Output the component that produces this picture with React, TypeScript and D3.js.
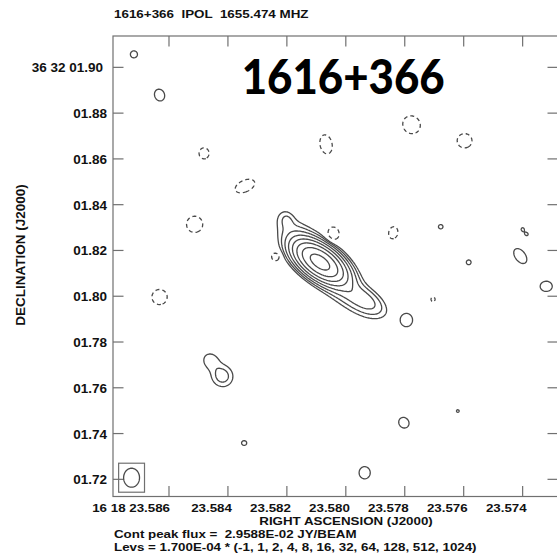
import React, { useMemo } from "react";
import * as d3 from "d3";

// Map extent: RA in seconds of 16h18m, Dec in arcsec of +36d32m
const RA_RANGE = [23.5879, 23.5728];
const DEC_RANGE = [1.7125, 1.9137];
const RA_TICKS = [23.586, 23.584, 23.582, 23.58, 23.578, 23.576, 23.574];
const DEC_TICKS = [1.9, 1.88, 1.86, 1.84, 1.82, 1.8, 1.78, 1.76, 1.74, 1.72];

// Contour levels (Jy/beam) and map peak
const BASE_LEVEL_JY = 1.7e-4;
const PEAK_FLUX_JY = 2.9588e-2;
const LEVEL_MULTIPLIERS = [-1, 1, 2, 4, 8, 16, 32, 64, 128, 512, 1024];

// Clean components: position, peak (mJy/beam), FWHM major/minor (mas), PA (deg)
const COMP_RA = [
  23.58088, 23.58071, 23.582, 23.57936,
  23.58719, 23.58632, 23.58419, 23.58458,
  23.58481, 23.58342, 23.58067, 23.57777, 23.57597, 23.58513, 23.58043, 23.58238,
  23.57839, 23.57704, 23.58632,
  23.57678, 23.574, 23.57386, 23.57583, 23.57408, 23.5732, 23.57794, 23.58345,
  23.57803, 23.5762, 23.57936,
];
const COMP_DEC = [
  1.81494, 1.81319, 1.83329, 1.79834,
  1.90568, 1.8879, 1.76514, 1.77169,
  1.86243, 1.84814, 1.86636, 1.87492, 1.86793, 1.83141, 1.82717, 1.81726,
  1.82774, 1.79865, 1.79965,
  1.83036, 1.82923, 1.82704, 1.81481, 1.81756, 1.80433, 1.7896, 1.73587,
  1.74474, 1.74985, 1.72289,
];
const COMP_PEAK = [
  27.9, 1.5, 0.27, 0.85,
  0.31, 0.31, 0.48, 0.3,
  -0.31, -0.31, -0.31, -0.31, -0.31, -0.31, -0.31, -0.31,
  -0.31, -0.22, -0.31,
  0.22, 0.2, 0.2, 0.26, 0.31, 0.31, 0.31, 0.26,
  0.31, 0.2, 0.31,
];
const COMP_MAJ = [
  14, 30, 6, 13,
  3.3, 5.6, 7.6, 7,
  5.2, 9.3, 9, 8.5, 6.7, 7.6, 6.6, 3.8,
  5.7, 3.3, 7.1,
  3.1, 3, 2.2, 2.7, 7.8, 5.3, 6.2, 2.7,
  5.1, 2.4, 5.7,
];
const COMP_MIN = [
  7.2, 9, 4.5, 6.5,
  3.1, 4.4, 7, 6,
  4.4, 5.4, 5.3, 7.6, 6.5, 7.1, 5.3, 3.6,
  4, 2.8, 6.7,
  3.1, 2.6, 2.2, 2.5, 4.6, 4.8, 5.3, 2.7,
  4.4, 2.4, 4.9,
];
const COMP_PA = [
  52, 42, 15, 55,
  0, 15, 15, 30,
  0, -63, 10, 20, 0, 0, 0, 0,
  -10, 0, 0,
  0, 0, 0, 0, 33, 90, 0, 0,
  25, 0, 0,
];

// Restoring beam
const BEAM_RA = 23.58727;
const BEAM_DEC = 1.72071;
const BEAM_MAJ = 8.3;
const BEAM_MIN = 6.5;
const BEAM_PA = 0;

const SOURCE = "1616+366";
const TITLE = SOURCE + "  IPOL  1655.474 MHZ";

const COS_DEC = Math.cos(((36 + 32 / 60 + 1.8 / 3600) * Math.PI) / 180);

const LEFT = 113;
const RIGHT = 558;
const TOP = 36;
const BOTTOM = 496.5;

const FONT = "'Liberation Sans', Arial, Helvetica, sans-serif";
const INK = "#111";
const FRAME = "#707070";
const CONTOUR = "#4a4a4a";

// AIPS-style exponent: 1.700E-04
function aipsExp(v: number, digits: number): string {
  const [m, e] = v.toExponential(digits).split("e");
  const n = parseInt(e, 10);
  return m + "E" + (n < 0 ? "-" : "+") + String(Math.abs(n)).padStart(2, "0");
}

function skyField(ra: number, dec: number): number {
  let s = 0;
  for (let k = 0; k < COMP_RA.length; k++) {
    const e = (ra - COMP_RA[k]) * 15000 * COS_DEC;
    const n = (dec - COMP_DEC[k]) * 1000;
    const pa = (COMP_PA[k] * Math.PI) / 180;
    const u = e * Math.sin(pa) + n * Math.cos(pa);
    const v = e * Math.cos(pa) - n * Math.sin(pa);
    const q = (u / COMP_MAJ[k]) ** 2 + (v / COMP_MIN[k]) ** 2;
    if (q < 14) s += COMP_PEAK[k] * Math.exp(-4 * Math.LN2 * q);
  }
  return s;
}

function Label(props: {
  x: number;
  y: number;
  size: number;
  sx?: number;
  anchor?: "start" | "middle" | "end";
  children: React.ReactNode;
}) {
  const { x, y, size, sx = 1, anchor = "start", children } = props;
  return (
    <g transform={`translate(${x},${y}) scale(${sx},1)`}>
      <text x={0} y={0} textAnchor={anchor} fontFamily={FONT} fontWeight="bold" fontSize={size}
        fill={INK} style={{ whiteSpace: "pre" }}>
        {children}
      </text>
    </g>
  );
}

export default function App() {
  const x = d3.scaleLinear().domain(RA_RANGE).range([LEFT, RIGHT]);
  const y = d3.scaleLinear().domain(DEC_RANGE).range([BOTTOM, TOP]);
  const baseMJy = BASE_LEVEL_JY * 1000;

  const { posPaths, negPaths } = useMemo(() => {
    const step = 1;
    const nx = Math.ceil((RIGHT - LEFT) / step) + 1;
    const ny = Math.ceil((BOTTOM - TOP) / step) + 1;
    const values = new Float64Array(nx * ny);
    for (let j = 0; j < ny; j++) {
      const dec = y.invert(TOP + j * step);
      for (let i = 0; i < nx; i++) {
        values[j * nx + i] = skyField(x.invert(LEFT + i * step), dec);
      }
    }
    const project = d3.geoTransform({
      point(gx: number, gy: number) {
        (this as any).stream.point(LEFT + (gx - 0.5) * step, TOP + (gy - 0.5) * step);
      },
    });
    const path = d3.geoPath(project);
    const posLevels = LEVEL_MULTIPLIERS.filter((m) => m > 0).map((m) => m * baseMJy);
    const negLevels = LEVEL_MULTIPLIERS.filter((m) => m < 0).map((m) => -m * baseMJy);
    const gen = d3.contours().size([nx, ny]).smooth(true);
    const pos = gen.thresholds(posLevels)(Array.from(values));
    const neg = gen.thresholds(negLevels)(Array.from(values, (v) => -v));
    return {
      posPaths: pos.map((c) => path(c as any) || ""),
      negPaths: neg.map((c) => path(c as any) || ""),
    };
  }, []);

  // Beam outline
  const beamPts: [number, number][] = d3.range(0, 73).map((t) => {
    const a = (t / 72) * 2 * Math.PI;
    const pa = (BEAM_PA * Math.PI) / 180;
    const u = (BEAM_MAJ / 2) * Math.cos(a);
    const v = (BEAM_MIN / 2) * Math.sin(a);
    const e = u * Math.sin(pa) + v * Math.cos(pa);
    const n = u * Math.cos(pa) - v * Math.sin(pa);
    return [x(BEAM_RA + e / (15000 * COS_DEC)), y(BEAM_DEC + n / 1000)];
  });
  const beamPath = d3.line()(beamPts) || "";
  const bx = x(BEAM_RA);
  const by = y(BEAM_DEC);
  const bHalfW = Math.abs(x(BEAM_RA + BEAM_MIN / 2 / (15000 * COS_DEC)) - bx) + 5;
  const bHalfH = Math.abs(y(BEAM_DEC + BEAM_MAJ / 2 / 1000) - by) + 5;

  const tickLen = 10.5;
  const peakText = "Cont peak flux =  " + aipsExp(PEAK_FLUX_JY, 4) + " JY/BEAM";
  const levText = "Levs = " + aipsExp(BASE_LEVEL_JY, 3) + " * (" + LEVEL_MULTIPLIERS.join(", ") + ")";

  return (
    <svg width={557} height={557} style={{ position: "absolute", left: 0, top: 0, background: "#fff" }}>
      <defs>
        <clipPath id="frameClip">
          <rect x={LEFT} y={TOP} width={RIGHT - LEFT} height={BOTTOM - TOP} />
        </clipPath>
      </defs>
      <rect width={557} height={557} fill="#fff" />

      <Label x={114} y={18} size={11} sx={1.22}>{TITLE}</Label>

      {/* frame */}
      <rect x={LEFT} y={TOP} width={RIGHT - LEFT} height={BOTTOM - TOP} fill="none" stroke={FRAME} strokeWidth={1.2} />
      {RA_TICKS.map((t) => (
        <g key={"rt" + t}>
          <line x1={x(t)} x2={x(t)} y1={TOP} y2={TOP + tickLen} stroke={FRAME} strokeWidth={1.2} />
          <line x1={x(t)} x2={x(t)} y1={BOTTOM} y2={BOTTOM - tickLen} stroke={FRAME} strokeWidth={1.2} />
        </g>
      ))}
      {DEC_TICKS.map((t) => (
        <g key={"dt" + t}>
          <line x1={LEFT} x2={LEFT + tickLen} y1={y(t)} y2={y(t)} stroke={FRAME} strokeWidth={1.2} />
          <line x1={RIGHT} x2={RIGHT - tickLen} y1={y(t)} y2={y(t)} stroke={FRAME} strokeWidth={1.2} />
        </g>
      ))}

      {/* tick labels */}
      {DEC_TICKS.map((t, i) => (
        <Label key={"dl" + t} x={i === 0 ? 103 : 107} y={y(t) + 5} size={13.5} anchor="end">
          {(i === 0 ? "36 32 " : "") + "0" + t.toFixed(2)}
        </Label>
      ))}
      {RA_TICKS.map((t, i) => (
        <Label key={"rl" + t} x={x(t) + (i === 0 ? 1 : 4)} y={511.5} size={11.5} sx={1.16} anchor="end">
          {(i === 0 ? "16 18 " : "") + t.toFixed(3)}
        </Label>
      ))}

      <Label x={346} y={524.6} size={11.5} sx={1.16} anchor="middle">RIGHT ASCENSION (J2000)</Label>
      <text transform="translate(25,255) rotate(-90)" textAnchor="middle" fontFamily={FONT}
        fontWeight="bold" fontSize={13.5} fill={INK}>
        DECLINATION (J2000)
      </text>
      <Label x={114} y={537.8} size={11.5} sx={1.16}>{peakText}</Label>
      <Label x={114} y={551.2} size={11.5} sx={1.16}>{levText}</Label>

      {/* contours */}
      <g clipPath="url(#frameClip)" fill="none" stroke={CONTOUR} strokeWidth={1.3} strokeLinejoin="round">
        {posPaths.map((d, i) => (
          <path key={"p" + i} d={d} />
        ))}
        {negPaths.map((d, i) => (
          <path key={"n" + i} d={d} strokeDasharray="4 3" />
        ))}
      </g>

      {/* beam */}
      <rect x={bx - bHalfW} y={by - bHalfH} width={2 * bHalfW} height={2 * bHalfH} fill="none" stroke={FRAME} strokeWidth={1.2} />
      <path d={beamPath} fill="none" stroke={CONTOUR} strokeWidth={1.3} />

      <text x={241.7} y={93.5} fontFamily="Lato, 'Liberation Sans', Arial, sans-serif" fontWeight={900} fontSize={48}
        fill="#000" textLength={203} lengthAdjust="spacingAndGlyphs">
        {SOURCE}
      </text>
    </svg>
  );
}
